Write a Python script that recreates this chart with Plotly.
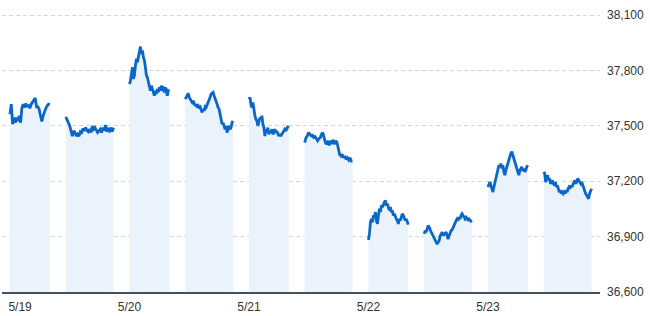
import plotly.graph_objects as go

# ---- data ----
dates = ["5/19", "5/20", "5/21", "5/22", "5/23"]

day1_am = [37564, 37618, 37509, 37545, 37518, 37545, 37527, 37555, 37518, 37600, 37618, 37600, 37622, 37604, 37615, 37596,
           37618, 37633, 37640, 37651, 37604, 37604, 37591, 37555, 37524, 37555, 37582, 37596, 37609, 37618, 37615]
day1_pm = [37549, 37536, 37518, 37500, 37464, 37445, 37473, 37464, 37445, 37455, 37445, 37469, 37464, 37487, 37473, 37491,
           37476, 37469, 37482, 37464, 37500, 37482, 37491, 37476, 37464, 37473, 37482, 37464, 37491, 37476, 37505, 37469,
           37482, 37473, 37491, 37469, 37491]
day2_am = [37727, 37745, 37782, 37818, 37755, 37773, 37827, 37864, 37845, 37882, 37909, 37930, 37891, 37909, 37873, 37855,
           37818, 37773, 37764, 37736, 37727, 37691, 37718, 37700, 37673, 37664, 37691, 37673, 37700, 37682, 37709, 37691,
           37718, 37700, 37705, 37682, 37709, 37673, 37664, 37691, 37687]
day2_pm = [37645, 37655, 37664, 37676, 37655, 37645, 37636, 37627, 37636, 37618, 37609, 37618, 37600, 37609, 37600, 37604,
           37591, 37573, 37591, 37582, 37604, 37600, 37615, 37627, 37636, 37655, 37673, 37676, 37682, 37664, 37651, 37636,
           37618, 37600, 37591, 37564, 37536, 37509, 37518, 37500, 37482, 37500, 37464, 37482, 37500, 37482, 37491, 37518,
           37527]
day3_am = [37645, 37655, 37618, 37600, 37627, 37582, 37555, 37536, 37527, 37500, 37518, 37545, 37536, 37555, 37509, 37491,
           37445, 37482, 37464, 37491, 37455, 37473, 37464, 37482, 37455, 37464, 37482, 37464, 37473, 37455, 37445, 37455,
           37445, 37455, 37464, 37473, 37482, 37473, 37491, 37495, 37500]
day3_pm = [37410, 37437, 37446, 37464, 37455, 37446, 37449, 37437, 37442, 37428, 37419, 37431, 37437, 37455, 37464, 37437,
           37410, 37401, 37419, 37395, 37419, 37410, 37424, 37401, 37419, 37410, 37382, 37346, 37337, 37346, 37328, 37337,
           37319, 37328, 37316, 37328, 37310, 37310]
day4_am = [36882, 36915, 36978, 36996, 36978, 37015, 37005, 37033, 36987, 36969, 37015, 37051, 37033, 37069, 37060, 37078,
           37087, 37096, 37069, 37078, 37051, 37042, 37060, 37033, 37042, 37015, 37024, 37005, 36996, 36987, 36969, 36996,
           36987, 37005, 37024, 37015, 37005, 36987, 36996, 36978, 36965]
day4_pm = [36915, 36933, 36924, 36942, 36960, 36951, 36933, 36924, 36915, 36905, 36893, 36878, 36869, 36860, 36869, 36878,
           36905, 36915, 36924, 36905, 36915, 36918, 36924, 36905, 36887, 36905, 36924, 36933, 36936, 36951, 36960, 36969,
           36987, 36996, 36987, 37005, 36996, 37015, 37024, 37015, 37005, 36996, 37005, 36996, 36991, 36996, 36987, 36984,
           36987]
day5_am = [37169, 37187, 37196, 37178, 37160, 37142, 37169, 37196, 37224, 37242, 37260, 37287, 37278, 37296, 37269, 37287,
           37251, 37233, 37260, 37278, 37305, 37324, 37333, 37351, 37360, 37342, 37324, 37315, 37287, 37269, 37251, 37233,
           37260, 37269, 37278, 37256, 37269, 37251, 37260, 37278, 37287]
day5_pm = [37251, 37242, 37196, 37224, 37233, 37205, 37215, 37187, 37196, 37205, 37187, 37178, 37196, 37169, 37178, 37160,
           37142, 37151, 37133, 37142, 37133, 37142, 37133, 37151, 37142, 37160, 37169, 37160, 37178, 37169, 37187, 37196,
           37205, 37187, 37202, 37215, 37205, 37196, 37187, 37196, 37178, 37169, 37151, 37133, 37124, 37115, 37105, 37133,
           37151, 37160]

sessions = [(day1_am, day1_pm), (day2_am, day2_pm), (day3_am, day3_pm), (day4_am, day4_pm), (day5_am, day5_pm)]

# trading-time axis (minutes from 9:00 of first day; lunch and overnight breaks compressed to 60 min)
AM_START, AM_END, PM_START, PM_END, DAY_LEN = 0, 150, 210, 390, 450

LINE = "#0a67c9"
FILL = "#eaf2fb"

fig = go.Figure()
for d, (am, pm) in enumerate(sessions):
    for vals, t0, t1 in ((am, AM_START, AM_END), (pm, PM_START, PM_END)):
        n = len(vals)
        xs = [d * DAY_LEN + t0 + (t1 - t0) * i / (n - 1) for i in range(n)]
        fig.add_trace(go.Scatter(x=xs, y=vals, mode="lines", fill="tozeroy", fillcolor=FILL,
                                 line=dict(color=LINE, width=2.8), hoverinfo="skip", showlegend=False))

tick_pos = [d * DAY_LEN for d in range(len(dates))]
tick_pos[0] += 38  # first label justified inside the plot area, as in the original

fig.update_layout(
    width=650, height=316,
    margin=dict(l=2, r=50, t=13, b=24),
    paper_bgcolor="white", plot_bgcolor="white",
    font=dict(family="Liberation Sans, Arial, sans-serif", size=12, color="#333333"),
    xaxis=dict(range=[-30, 2222], tickvals=tick_pos, ticktext=dates, ticks="",
               showgrid=False, zeroline=False, showline=True, linecolor="#45505c", linewidth=1.5,
               ticklabelstandoff=3, fixedrange=True),
    yaxis=dict(range=[36600, 38112], side="right", tick0=36600, dtick=300, tickformat=",d",
               ticks="", showgrid=True, gridcolor="#d6d6d6", gridwidth=1, griddash="4px,3px",
               zeroline=False, showline=False, ticklabelstandoff=6, fixedrange=True),
)

fig.write_html("out.html", config={"displayModeBar": False})
